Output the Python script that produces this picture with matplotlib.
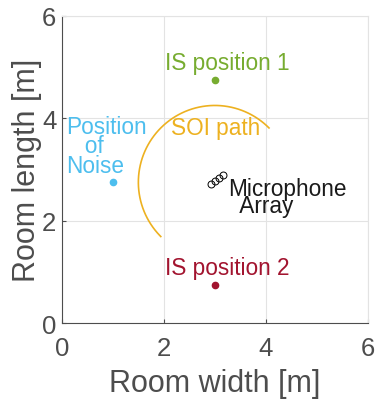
import numpy as np
import matplotlib
matplotlib.use("Agg")
import matplotlib.pyplot as plt

plt.rcParams['font.family'] = ['Liberation Sans', 'DejaVu Sans']

# data
is_pos1 = (3.0, 4.75)
is_pos2 = (3.0, 0.75)
noise_pos = (1.0, 2.75)
mic_x = [2.92, 3.0, 3.08, 3.16]
mic_y = [2.71, 2.77, 2.83, 2.89]
soi_center = (3.0, 2.75)
soi_radius = 1.5
soi_angles_deg = (45, 225)
ticks = [0, 2, 4, 6]

c_green = '#77AC30'
c_red = '#A2142F'
c_cyan = '#4DBEEE'
c_orange = '#EDB120'
c_axis = '#4D4D4D'

fig = plt.figure(figsize=(3.77, 4.02), dpi=100)
ax = fig.add_axes([0.164, 0.194, 0.812, 0.764])

ax.set_xlim(0, 6)
ax.set_ylim(0, 6)
ax.set_xticks(ticks)
ax.set_yticks(ticks)
ax.grid(True, color='#E3E3E3', linewidth=0.8)
ax.set_axisbelow(True)
for s in ['top', 'right']:
    ax.spines[s].set_color('#E3E3E3')
    ax.spines[s].set_linewidth(0.8)
for s in ['left', 'bottom']:
    ax.spines[s].set_color(c_axis)
    ax.spines[s].set_linewidth(0.8)
ax.tick_params(direction='in', length=3, colors=c_axis, labelsize=18.5)
ax.tick_params(axis='x', pad=9)
ax.tick_params(axis='y', pad=4)
ax.set_xlabel('Room width [m]', fontsize=22, color=c_axis, labelpad=6)
ax.set_ylabel('Room length [m]', fontsize=22, color=c_axis, labelpad=0)

# SOI path arc
th = np.deg2rad(np.linspace(soi_angles_deg[0], soi_angles_deg[1], 200))
ax.plot(soi_center[0] + soi_radius * np.cos(th),
        soi_center[1] + soi_radius * np.sin(th), color=c_orange, lw=1.2)

ax.plot(*is_pos1, 'o', color=c_green, ms=4.5)
ax.plot(*is_pos2, 'o', color=c_red, ms=4.5)
ax.plot(*noise_pos, 'o', color=c_cyan, ms=4.5)
ax.plot(mic_x, mic_y, 'o', mfc='none', mec='black', ms=5, mew=0.7, ls='none')

fs = 16.3
ax.text(2.03, 5.08, 'IS position 1', color=c_green, fontsize=fs, ha='left', va='center')
ax.text(2.03, 1.09, 'IS position 2', color=c_red, fontsize=fs, ha='left', va='center')
ax.text(0.09, 3.46, 'Position\n   of\nNoise', color=c_cyan, fontsize=fs, ha='left',
        va='center', linespacing=0.8)
ax.text(3.02, 3.81, 'SOI path', color=c_orange, fontsize=fs, ha='center', va='center')
ax.text(3.25, 2.46, 'Microphone\n  Array', color='#1A1A1A', fontsize=fs, ha='left',
        va='center', linespacing=0.65)

fig.savefig('out.png', dpi=100)
